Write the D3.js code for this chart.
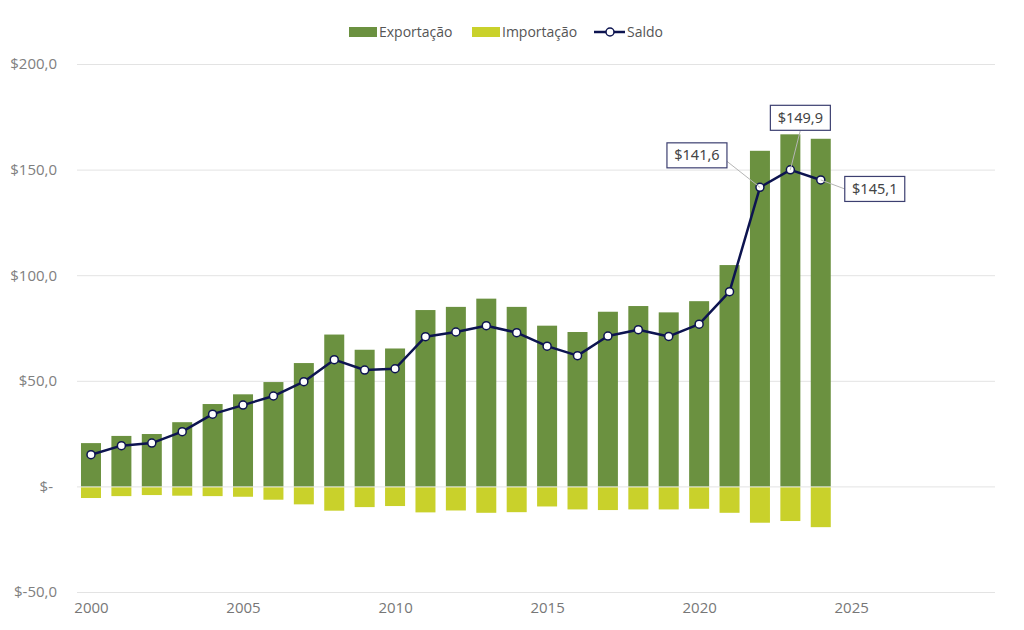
<!DOCTYPE html>
<html>
<head>
<meta charset="utf-8">
<script src="https://cdn.jsdelivr.net/npm/d3@7"></script>
<style>
  body { margin: 0; background: #fff; }
  svg text { font-family: "Open Sans", "Noto Sans", sans-serif; }
</style>
</head>
<body>
<svg id="chart" width="1024" height="630"></svg>
<script>
// anos e valores (US$ bilhões)
const years = d3.range(2000, 2025);
const exportacao = [20.5, 23.9, 24.8, 30.4, 39.0, 43.6, 49.4, 58.4, 71.9, 64.7, 65.3, 83.5, 85.0,
                    88.9, 85.0, 76.1, 73.1, 82.7, 85.4, 82.4, 87.7, 104.8, 158.9, 166.7, 164.6];
const importacao = [-5.5, -4.6, -4.1, -4.4, -4.6, -4.9, -6.3, -8.5, -11.5, -9.8, -9.3, -12.3, -11.4,
                    -12.5, -12.2, -9.5, -10.9, -11.2, -10.9, -10.9, -10.6, -12.5, -17.2, -16.4, -19.3];
const saldo = [15.0, 19.3, 20.5, 25.9, 34.2, 38.5, 42.8, 49.6, 60.0, 55.1, 55.7, 70.9, 73.1,
               76.1, 72.8, 66.4, 61.9, 71.2, 74.2, 71.0, 76.8, 92.2, 141.6, 149.9, 145.1];
const yTicks = [-50, 0, 50, 100, 150, 200];
const xTicks = [2000, 2005, 2010, 2015, 2020, 2025];
const labelled = [2022, 2023, 2024];

const svg = d3.select('#chart');
const x = d3.scaleLinear().domain([1999.54, 2029.73]).range([77, 995]);
const y = d3.scaleLinear().domain([-50, 200]).range([592, 64]);
const barW = 20;

const fmt = v => v === 0 ? '$-' : '$' + d3.format('.1f')(v).replace('.', ',').replace('−', '-');

// grid
svg.append('g').selectAll('line').data(yTicks).join('line')
  .attr('x1', 77).attr('x2', 995)
  .attr('y1', d => y(d) + 0.5).attr('y2', d => y(d) + 0.5)
  .attr('stroke', '#e3e3e3').attr('stroke-width', 1);

// y axis
const yAxis = svg.append('g').attr('transform', 'translate(57,0)')
  .call(d3.axisLeft(y).tickValues(yTicks).tickSize(0).tickPadding(0).tickFormat(fmt));
yAxis.select('.domain').remove();
yAxis.selectAll('text')
  .attr('fill', '#808080').style('font-size', '15px')
  .attr('dx', d => d === 0 ? -4 : 0);

// x axis
const xAxis = svg.append('g').attr('transform', 'translate(0,602)')
  .call(d3.axisBottom(x).tickValues(xTicks).tickSize(0).tickPadding(0).tickFormat(d3.format('d')));
xAxis.select('.domain').remove();
xAxis.selectAll('text').attr('fill', '#777').style('font-size', '15px');

// barras
svg.append('g').selectAll('rect').data(years).join('rect')
  .attr('x', (d) => x(d) - barW / 2)
  .attr('y', (d, i) => y(exportacao[i]))
  .attr('width', barW)
  .attr('height', (d, i) => y(0) - y(exportacao[i]))
  .attr('fill', '#6b9140');

svg.append('g').selectAll('rect').data(years).join('rect')
  .attr('x', (d) => x(d) - barW / 2)
  .attr('y', y(0) + 1)
  .attr('width', barW)
  .attr('height', (d, i) => y(importacao[i]) - y(0) - 1)
  .attr('fill', '#c9d12b');

// linha do saldo
const line = d3.line().x((d, i) => x(years[i])).y(d => y(d));
svg.append('path').datum(saldo)
  .attr('d', line)
  .attr('fill', 'none').attr('stroke', '#0d1450').attr('stroke-width', 2.5)
  .attr('stroke-linejoin', 'round');

svg.append('g').selectAll('circle').data(saldo).join('circle')
  .attr('cx', (d, i) => x(years[i])).attr('cy', d => y(d))
  .attr('r', 4).attr('fill', '#fff').attr('stroke', '#0d1450').attr('stroke-width', 1.5);

// rótulos com caixa
const offsets = { 2022: [-63, -32, 'right'], 2023: [10, -52, 'bottom'], 2024: [54, 9, 'left'] };
labelled.forEach(yr => {
  const i = years.indexOf(yr);
  const px = x(yr), py = y(saldo[i]);
  const [dx, dy, side] = offsets[yr];
  const cx = px + dx, cy = py + dy;
  const w = 60, h = 25;
  let lx, ly;
  if (side === 'right') { lx = cx + w / 2; ly = cy + 6; }
  else if (side === 'bottom') { lx = cx; ly = cy + h / 2; }
  else { lx = cx - w / 2; ly = cy; }
  svg.append('line')
    .attr('x1', lx).attr('y1', ly).attr('x2', px).attr('y2', py)
    .attr('stroke', '#b5b5b5').attr('stroke-width', 1);
  svg.append('rect')
    .attr('x', cx - w / 2).attr('y', cy - h / 2).attr('width', w).attr('height', h)
    .attr('fill', '#fff').attr('stroke', '#3c3f70').attr('stroke-width', 1.2);
  svg.append('text')
    .attr('x', cx).attr('y', cy).attr('dy', '0.35em')
    .attr('text-anchor', 'middle')
    .style('font-family', '"Noto Sans", sans-serif')
    .style('font-size', '14.5px').attr('fill', '#444')
    .text(fmt(saldo[i]));
});

// legenda
const leg = svg.append('g').style('font-size', '14px');
leg.append('rect').attr('x', 349).attr('y', 27).attr('width', 28).attr('height', 10).attr('fill', '#6b9140');
leg.append('text').attr('x', 379).attr('y', 32).attr('dy', '0.35em').attr('fill', '#555').text('Exportação');
leg.append('rect').attr('x', 472).attr('y', 27).attr('width', 28).attr('height', 10).attr('fill', '#c9d12b');
leg.append('text').attr('x', 502).attr('y', 32).attr('dy', '0.35em').attr('fill', '#555').text('Importação');
leg.append('line').attr('x1', 594).attr('x2', 625).attr('y1', 32).attr('y2', 32)
  .attr('stroke', '#0d1450').attr('stroke-width', 2.5);
leg.append('circle').attr('cx', 610).attr('cy', 32).attr('r', 4)
  .attr('fill', '#fff').attr('stroke', '#0d1450').attr('stroke-width', 1.5);
leg.append('text').attr('x', 627).attr('y', 32).attr('dy', '0.35em').attr('fill', '#555').text('Saldo');
</script>
</body>
</html>
